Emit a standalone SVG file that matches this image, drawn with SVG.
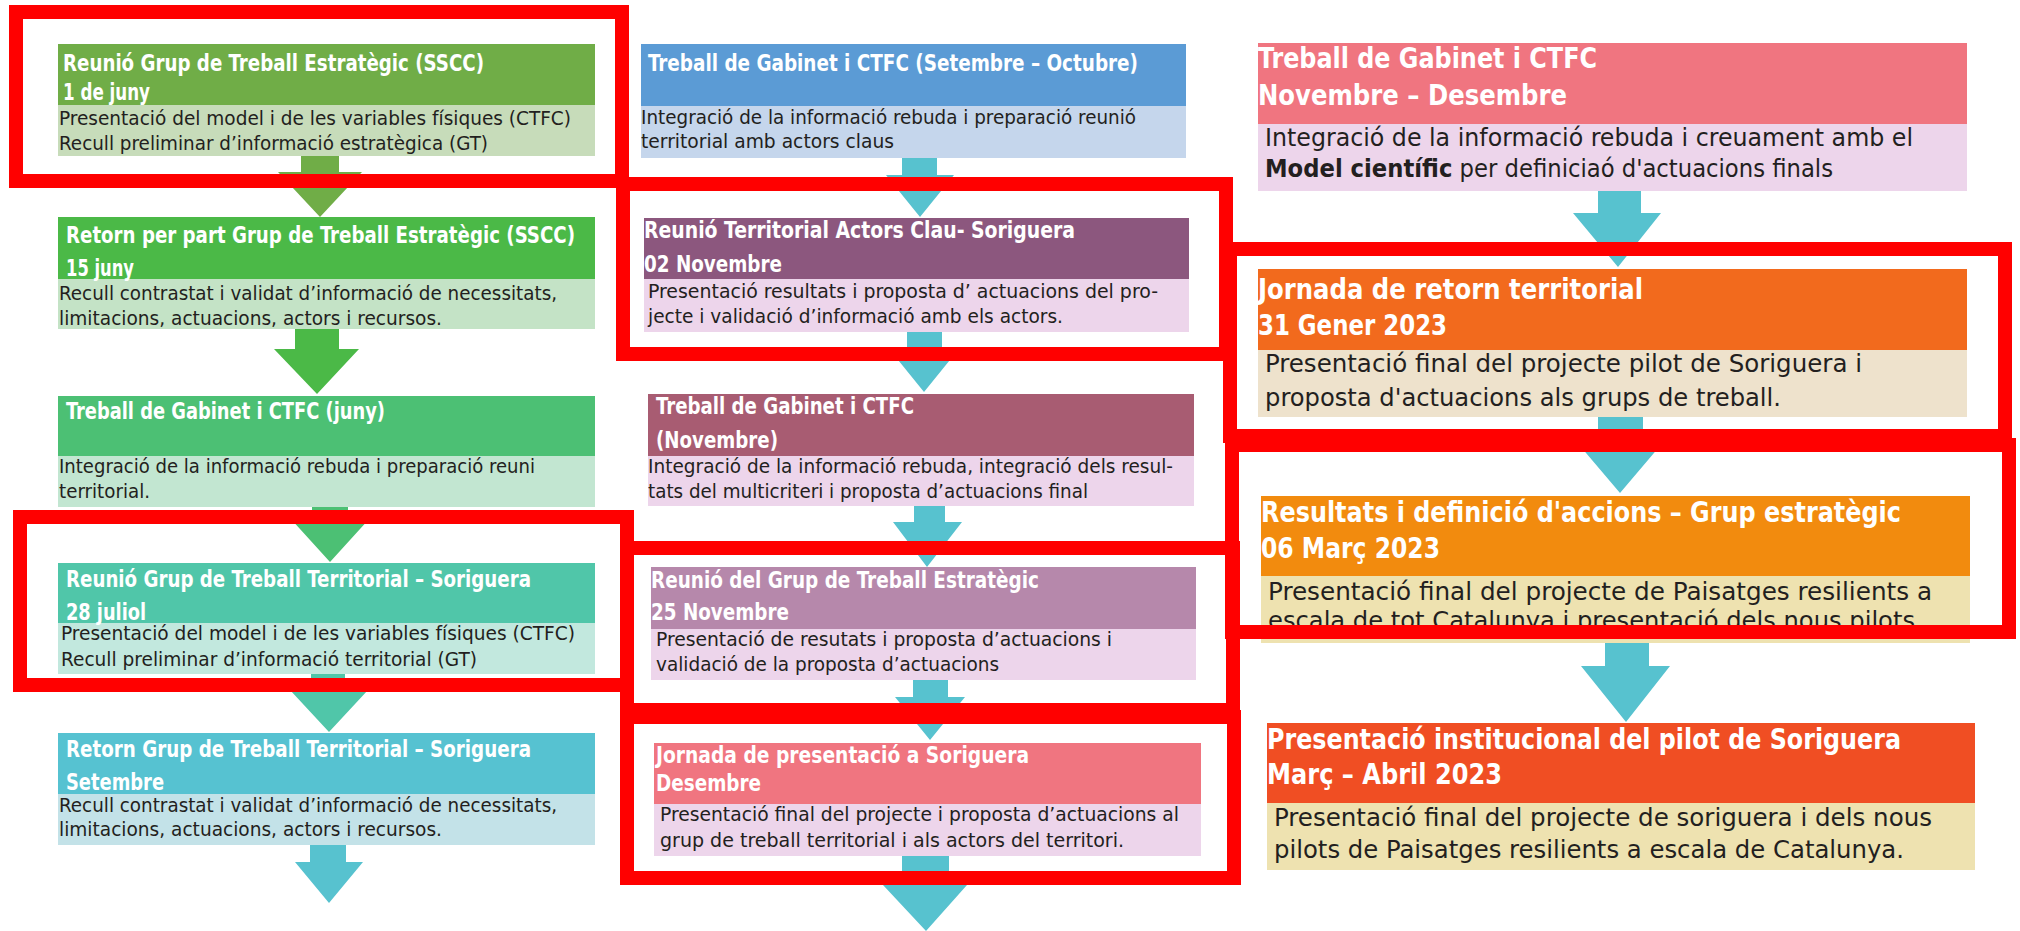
<svg xmlns="http://www.w3.org/2000/svg" width="2020" height="931" viewBox="0 0 2020 931">
<style>
text{font-family:"Liberation Sans Narrow","DejaVu Sans Condensed","Liberation Sans",sans-serif;}
.t{fill:#fff;font-weight:bold;font-size:22.5px;}
.b{fill:#231f20;font-size:19.5px;}
.t3{fill:#fff;font-weight:bold;font-size:28.5px;}
.b3{fill:#231f20;font-size:24px;}
.hl{fill:none;stroke:#ff0000;stroke-width:14;}
.ac{fill:#57c2cf;}
.pb{fill:#edd5eb;}
</style>
<rect width="2020" height="931" fill="#fff"/>
<g id="connectors">
<polygon fill="#70ad47" points="301,156 339,156 339,172 362,172 320,217 278,172 301,172"/>
<polygon fill="#4bb947" points="295,329 339,329 339,349 359,349 317,394 274,349 295,349"/>
<polygon fill="#4cc074" points="312,507 348,507 348,518 370,518 330,562 290,518 312,518"/>
<polygon fill="#50c6a9" points="311,674 345,674 345,690 368,690 329,732 290,690 311,690"/>
<polygon class="ac" points="310,845 346,845 346,862 363,862 329,903 295,862 310,862"/>
<polygon class="ac" points="902,158 937,158 937,175 954,175 920,217 886,175 902,175"/>
<polygon class="ac" points="907,332 942,332 942,350 958,350 924,392 890,350 907,350"/>
<polygon class="ac" points="914,506 945,506 945,522 962,522 927,567 893,522 914,522"/>
<polygon class="ac" points="913,680 948,680 948,697 965,697 930,740 895,697 913,697"/>
<polygon class="ac" points="902,856 949,856 949,885 967,885 926,931 883,885 902,885"/>
<polygon class="ac" points="1598,191 1641,191 1641,213 1661,213 1618,267 1573,213 1598,213"/>
<polygon class="ac" points="1598,417 1643,417 1643,440 1665,440 1620,493 1575,440 1598,440"/>
<polygon class="ac" points="1605,643 1649,643 1649,666 1670,666 1626,722 1581,666 1605,666"/>
</g>
<g id="n1">
<rect x="58" y="44" width="537" height="61" fill="#70ad47"/>
<rect x="58" y="105" width="537" height="51" fill="#c7dcba"/>
<text class="t" x="63" y="71" textLength="421" lengthAdjust="spacingAndGlyphs">Reunió Grup de Treball Estratègic (SSCC)</text>
<text class="t" x="63" y="100" textLength="87" lengthAdjust="spacingAndGlyphs">1 de juny</text>
<text class="b" x="59" y="125" textLength="512" lengthAdjust="spacingAndGlyphs">Presentació del model i de les variables físiques (CTFC)</text>
<text class="b" x="59" y="150" textLength="429" lengthAdjust="spacingAndGlyphs">Recull preliminar d’informació estratègica (GT)</text>
</g>
<g id="n2">
<rect x="58" y="217" width="537" height="62" fill="#4bb947"/>
<rect x="58" y="279" width="537" height="50" fill="#c4e3c6"/>
<text class="t" x="66" y="243" textLength="509" lengthAdjust="spacingAndGlyphs">Retorn per part Grup de Treball Estratègic (SSCC)</text>
<text class="t" x="66" y="276" textLength="68" lengthAdjust="spacingAndGlyphs">15 juny</text>
<text class="b" x="59" y="300" textLength="498" lengthAdjust="spacingAndGlyphs">Recull contrastat i validat d’informació de necessitats,</text>
<text class="b" x="59" y="325" textLength="383" lengthAdjust="spacingAndGlyphs">limitacions, actuacions, actors i recursos.</text>
</g>
<g id="n3">
<rect x="58" y="396" width="537" height="60" fill="#4cc074"/>
<rect x="58" y="456" width="537" height="51" fill="#c2e6d1"/>
<text class="t" x="66" y="419" textLength="319" lengthAdjust="spacingAndGlyphs">Treball de Gabinet i CTFC (juny)</text>
<text class="b" x="59" y="473" textLength="476" lengthAdjust="spacingAndGlyphs">Integració de la informació rebuda i preparació reuni</text>
<text class="b" x="59" y="498" textLength="91" lengthAdjust="spacingAndGlyphs">territorial.</text>
</g>
<g id="n4">
<rect x="58" y="563" width="537" height="60" fill="#50c6a9"/>
<rect x="58" y="623" width="537" height="51" fill="#c2e8de"/>
<text class="t" x="66" y="587" textLength="465" lengthAdjust="spacingAndGlyphs">Reunió Grup de Treball Territorial – Soriguera</text>
<text class="t" x="66" y="620" textLength="80" lengthAdjust="spacingAndGlyphs">28 juliol</text>
<text class="b" x="61" y="640" textLength="514" lengthAdjust="spacingAndGlyphs">Presentació del model i de les variables físiques (CTFC)</text>
<text class="b" x="61" y="666" textLength="416" lengthAdjust="spacingAndGlyphs">Recull preliminar d’informació territorial (GT)</text>
</g>
<g id="n5">
<rect x="58" y="733" width="537" height="61" fill="#56c2d1"/>
<rect x="58" y="794" width="537" height="51" fill="#c3e2e8"/>
<text class="t" x="66" y="757" textLength="465" lengthAdjust="spacingAndGlyphs">Retorn Grup de Treball Territorial – Soriguera</text>
<text class="t" x="66" y="790" textLength="98" lengthAdjust="spacingAndGlyphs">Setembre</text>
<text class="b" x="59" y="812" textLength="498" lengthAdjust="spacingAndGlyphs">Recull contrastat i validat d’informació de necessitats,</text>
<text class="b" x="59" y="836" textLength="383" lengthAdjust="spacingAndGlyphs">limitacions, actuacions, actors i recursos.</text>
</g>
<g id="n6">
<rect x="641" y="44" width="545" height="62" fill="#5b9bd5"/>
<rect x="641" y="106" width="545" height="52" fill="#c5d6ec"/>
<text class="t" x="648" y="71" textLength="490" lengthAdjust="spacingAndGlyphs">Treball de Gabinet i CTFC (Setembre – Octubre)</text>
<text class="b" x="641" y="124" textLength="495" lengthAdjust="spacingAndGlyphs">Integració de la informació rebuda i preparació reunió</text>
<text class="b" x="641" y="148" textLength="253" lengthAdjust="spacingAndGlyphs">territorial amb actors claus</text>
</g>
<g id="n7">
<rect x="644" y="218" width="545" height="61" fill="#8c577e"/>
<rect class="pb" x="644" y="279" width="545" height="53"/>
<text class="t" x="644" y="238" textLength="431" lengthAdjust="spacingAndGlyphs">Reunió Territorial Actors Clau- Soriguera</text>
<text class="t" x="644" y="272" textLength="138" lengthAdjust="spacingAndGlyphs">02 Novembre</text>
<text class="b" x="648" y="298" textLength="510" lengthAdjust="spacingAndGlyphs">Presentació resultats i proposta d’ actuacions del pro-</text>
<text class="b" x="648" y="323" textLength="415" lengthAdjust="spacingAndGlyphs">jecte i validació d’informació amb els actors.</text>
</g>
<g id="n8">
<rect x="648" y="394" width="546" height="62" fill="#a85c72"/>
<rect class="pb" x="648" y="456" width="546" height="50"/>
<text class="t" x="656" y="414" textLength="258" lengthAdjust="spacingAndGlyphs">Treball de Gabinet i CTFC</text>
<text class="t" x="656" y="448" textLength="122" lengthAdjust="spacingAndGlyphs">(Novembre)</text>
<text class="b" x="648" y="473" textLength="525" lengthAdjust="spacingAndGlyphs">Integració de la informació rebuda, integració dels resul-</text>
<text class="b" x="648" y="498" textLength="440" lengthAdjust="spacingAndGlyphs">tats del multicriteri i proposta d’actuacions final</text>
</g>
<g id="n9">
<rect x="651" y="567" width="545" height="62" fill="#b688ab"/>
<rect class="pb" x="651" y="629" width="545" height="51"/>
<text class="t" x="651" y="588" textLength="388" lengthAdjust="spacingAndGlyphs">Reunió del Grup de Treball Estratègic</text>
<text class="t" x="651" y="620" textLength="138" lengthAdjust="spacingAndGlyphs">25 Novembre</text>
<text class="b" x="656" y="646" textLength="456" lengthAdjust="spacingAndGlyphs">Presentació de resutats i proposta d’actuacions i</text>
<text class="b" x="656" y="671" textLength="343" lengthAdjust="spacingAndGlyphs">validació de la proposta d’actuacions</text>
</g>
<g id="n10">
<rect x="654" y="743" width="547" height="61" fill="#f07580"/>
<rect class="pb" x="654" y="804" width="547" height="52"/>
<text class="t" x="656" y="763" textLength="373" lengthAdjust="spacingAndGlyphs">Jornada de presentació a Soriguera</text>
<text class="t" x="656" y="791" textLength="105" lengthAdjust="spacingAndGlyphs">Desembre</text>
<text class="b" x="660" y="821" textLength="519" lengthAdjust="spacingAndGlyphs">Presentació final del projecte i proposta d’actuacions al</text>
<text class="b" x="660" y="847" textLength="464" lengthAdjust="spacingAndGlyphs">grup de treball territorial i als actors del territori.</text>
</g>
<g id="n11">
<rect x="1258" y="43" width="709" height="81" fill="#f07580"/>
<rect class="pb" x="1258" y="124" width="709" height="67"/>
<text class="t3" x="1258" y="68" textLength="339" lengthAdjust="spacingAndGlyphs">Treball de Gabinet i CTFC</text>
<text class="t3" x="1258" y="105" textLength="309" lengthAdjust="spacingAndGlyphs">Novembre – Desembre</text>
<text class="b3" x="1265" y="146" textLength="648" lengthAdjust="spacingAndGlyphs">Integració de la informació rebuda i creuament amb el</text>
<text class="b3" x="1265" y="177" textLength="568" lengthAdjust="spacingAndGlyphs"><tspan font-weight="bold">Model científic</tspan> per definiciaó d'actuacions finals</text>
</g>
<g id="n12">
<rect x="1258" y="269" width="709" height="81" fill="#f26a1d"/>
<rect x="1258" y="350" width="709" height="67" fill="#eee2cc"/>
<text class="t3" x="1258" y="299" textLength="385" lengthAdjust="spacingAndGlyphs">Jornada de retorn territorial</text>
<text class="t3" x="1258" y="335" textLength="189" lengthAdjust="spacingAndGlyphs">31 Gener 2023</text>
<text class="b3" x="1265" y="372" textLength="597" lengthAdjust="spacingAndGlyphs">Presentació final del projecte pilot de Soriguera i</text>
<text class="b3" x="1265" y="406" textLength="516" lengthAdjust="spacingAndGlyphs">proposta d'actuacions als grups de treball.</text>
</g>
<g id="n13">
<rect x="1261" y="496" width="709" height="80" fill="#f28b0e"/>
<rect x="1261" y="576" width="709" height="67" fill="#eee2b0"/>
<text class="t3" x="1261" y="522" textLength="640" lengthAdjust="spacingAndGlyphs">Resultats i definició d'accions – Grup estratègic</text>
<text class="t3" x="1261" y="558" textLength="179" lengthAdjust="spacingAndGlyphs">06 Març 2023</text>
<text class="b3" x="1268" y="600" textLength="664" lengthAdjust="spacingAndGlyphs">Presentació final del projecte de Paisatges resilients a</text>
<text class="b3" x="1268" y="629" textLength="647" lengthAdjust="spacingAndGlyphs">escala de tot Catalunya i presentació dels nous pilots</text>
</g>
<g id="n14">
<rect x="1267" y="723" width="708" height="80" fill="#f04e23"/>
<rect x="1267" y="803" width="708" height="67" fill="#eee2b0"/>
<text class="t3" x="1267" y="749" textLength="634" lengthAdjust="spacingAndGlyphs">Presentació institucional del pilot de Soriguera</text>
<text class="t3" x="1267" y="784" textLength="235" lengthAdjust="spacingAndGlyphs">Març – Abril 2023</text>
<text class="b3" x="1274" y="826" textLength="658" lengthAdjust="spacingAndGlyphs">Presentació final del projecte de soriguera i dels nous</text>
<text class="b3" x="1274" y="858" textLength="630" lengthAdjust="spacingAndGlyphs">pilots de Paisatges resilients a escala de Catalunya.</text>
</g>
<g id="highlights">
<rect class="hl" x="16" y="12" width="606" height="169"/>
<rect class="hl" x="20" y="517" width="607" height="168"/>
<rect class="hl" x="623" y="184" width="603" height="170"/>
<rect class="hl" x="627" y="548" width="606" height="162"/>
<rect class="hl" x="627" y="717" width="607" height="161"/>
<rect class="hl" x="1230" y="249" width="775" height="187"/>
<rect class="hl" x="1232" y="445" width="777" height="187"/>
</g>
</svg>
